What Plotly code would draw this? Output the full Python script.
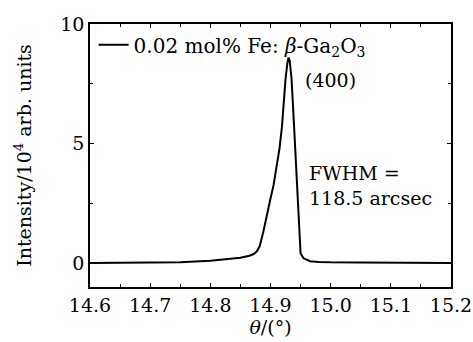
import plotly.graph_objects as go

theta = [14.60, 14.70, 14.75, 14.80, 14.83, 14.85, 14.865, 14.872, 14.877, 14.882, 14.888, 14.894,
         14.900, 14.905, 14.910, 14.915, 14.919, 14.922, 14.925, 14.928, 14.930, 14.932, 14.935,
         14.938, 14.941, 14.944, 14.946, 14.948, 14.950, 14.955, 14.960, 14.966, 14.98, 15.00,
         15.05, 15.10, 15.20]
intensity = [0.0, 0.01, 0.04, 0.10, 0.16, 0.22, 0.31, 0.38, 0.48, 0.70, 1.30, 2.05,
             2.70, 3.25, 3.95, 4.80, 5.70, 6.80, 7.70, 8.35, 8.60, 8.45, 7.70,
             6.30, 4.70, 3.00, 1.90, 0.90, 0.40, 0.20, 0.13, 0.08, 0.05, 0.03,
             0.02, 0.01, 0.0]
series_name = "0.02 mol% Fe: <i>β</i>-Ga<sub>2</sub>O<sub>3</sub>"
x_ticks = [14.6, 14.7, 14.8, 14.9, 15.0, 15.1, 15.2]
x_tick_labels = ["14.6", "14.7", "14.8", "14.9", "15.0", "15.1", "15.2"]
y_ticks = [0, 5, 10]

FONT = "'DejaVu Serif', serif"
FS = 19

fig = go.Figure()
fig.add_trace(go.Scatter(x=theta, y=intensity, mode="lines", name=series_name,
                         line=dict(color="black", width=2)))

axis_common = dict(showline=True, linecolor="black", linewidth=1.5, mirror="ticks",
                   ticks="inside", ticklen=4, tickwidth=1, tickcolor="black",
                   showgrid=False, zeroline=False, automargin=False,
                   tickfont=dict(family=FONT, size=FS, color="black"))

fig.update_layout(
    width=473, height=342,
    margin=dict(l=90, r=22, t=24, b=55),
    paper_bgcolor="white", plot_bgcolor="white",
    font=dict(family=FONT, color="black", size=FS),
    showlegend=True,
    legend=dict(x=0.01, y=0.995, xanchor="left", yanchor="top",
                bgcolor="rgba(0,0,0,0)", font=dict(family=FONT, size=FS + 1),
                itemwidth=30, tracegroupgap=0),
    xaxis=dict(range=[14.6, 15.2], tickvals=x_ticks, ticktext=x_tick_labels,
               minor=dict(ticks="inside", ticklen=3, dtick=0.05, tickcolor="black"),
               title=dict(text="<i>θ</i>/(°)", font=dict(family=FONT, size=FS), standoff=6),
               **axis_common),
    yaxis=dict(range=[-1.0, 10.0], tickvals=y_ticks,
               minor=dict(ticks="inside", ticklen=3, dtick=2.5, tickcolor="black"),
               title=dict(text="Intensity/10<sup>4</sup> arb. units", font=dict(family=FONT, size=FS), standoff=24),
               **axis_common),
)

fig.add_annotation(x=14.954, y=7.66, xref="x", yref="y", text="(400)", showarrow=False,
                   xanchor="left", yanchor="middle", font=dict(family=FONT, size=FS))
fig.add_annotation(x=14.960, y=3.24, xref="x", yref="y", text="FWHM =<br>118.5 arcsec",
                   showarrow=False, xanchor="left", yanchor="middle", align="left",
                   font=dict(family=FONT, size=FS))

fig.write_html("out.html")
